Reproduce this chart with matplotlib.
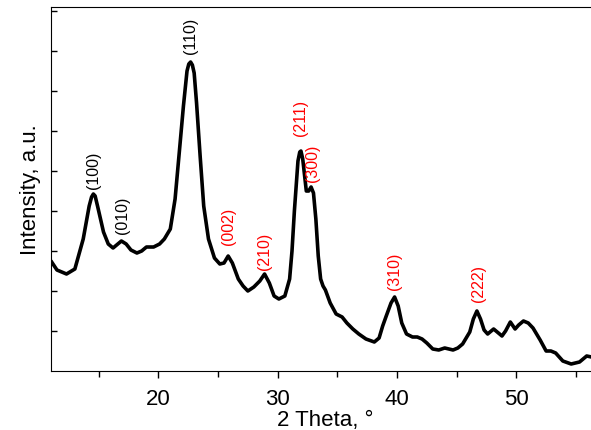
import matplotlib
matplotlib.use("Agg")
import matplotlib.pyplot as plt

plt.rcParams['font.family'] = ['Liberation Sans', 'DejaVu Sans']

# XRD pattern
two_theta = [11.0, 11.5, 12.3, 13.0, 13.7, 14.2, 14.4, 14.55, 14.7, 14.9,
             15.4, 15.8, 16.2, 16.6, 16.9, 17.3, 17.7, 18.2, 18.6, 19.0,
             19.6, 20.1, 20.5, 21.0, 21.4, 21.8, 22.1, 22.4, 22.55, 22.7,
             22.85, 23.0, 23.2, 23.5, 23.8, 24.2, 24.7, 25.15, 25.5, 25.85,
             26.2, 26.7, 27.1, 27.5, 28.0, 28.5, 28.9, 29.3, 29.7, 30.1,
             30.6, 31.0, 31.2, 31.4, 31.7, 31.85, 31.95, 32.1, 32.4, 32.6,
             32.8, 33.0, 33.2, 33.4, 33.6, 33.8, 34.0, 34.4, 34.9, 35.4,
             35.8, 36.3, 36.8, 37.4, 38.1, 38.5, 38.8, 39.1, 39.5, 39.8,
             40.1, 40.4, 40.8, 41.3, 41.7, 42.1, 42.5, 43.0, 43.5, 44.0,
             44.7, 45.1, 45.5, 46.1, 46.4, 46.7, 47.0, 47.3, 47.6, 48.1,
             48.5, 48.8, 49.1, 49.5, 49.9, 50.2, 50.6, 51.0, 51.4, 52.0,
             52.5, 52.9, 53.3, 53.9, 54.6, 55.3, 55.9, 56.3]
intensity = [110, 101, 97, 102, 132, 165, 174, 177, 175, 165,
             139, 127, 123, 127, 130, 127, 121, 118, 120, 124,
             124, 127, 132, 142, 172, 225, 265, 300, 307, 309,
             306, 298, 268, 215, 165, 132, 113, 107, 108, 115,
             108, 92, 85, 80, 84, 90, 97, 88, 75, 72,
             75, 92, 120, 160, 210, 219, 220, 212, 180, 180,
             184, 178, 152, 115, 92, 85, 81, 68, 57, 54,
             48, 42, 37, 32, 29, 33, 45, 55, 68, 74,
             65, 48, 37, 34, 34, 32, 28, 22, 21, 23,
             21, 23, 27, 39, 52, 60, 52, 41, 37, 42,
             38, 35, 40, 49, 42, 46, 50, 48, 43, 31,
             20, 20, 18, 10, 7, 9, 15, 14]

peak_labels = ['(100)', '(010)', '(110)', '(002)', '(210)',
               '(211)', '(300)', '(310)', '(222)']
peak_colors = ['black', 'black', 'black', 'red', 'red',
               'red', 'red', 'red', 'red']
label_x = [14.6, 17.0, 22.7, 25.9, 28.9, 31.95, 32.95, 39.8, 46.8]
label_y = [202, 157, 336, 146, 121, 254, 209, 101, 89]

fig = plt.figure(figsize=(5.91, 4.31), dpi=100)
ax = fig.add_axes([0.0863, 0.1369, 0.9286, 0.8445])

ax.plot(two_theta, intensity, color='black', linewidth=2.6,
        solid_joinstyle='round', solid_capstyle='round')

for lab, c, x, y in zip(peak_labels, peak_colors, label_x, label_y):
    ax.text(x, y, lab, color=c, rotation=90, fontsize=11.5,
            ha='center', va='center')

ax.set_xlim(11, 57)
ax.set_ylim(0, 364)
ax.set_xticks([20, 30, 40, 50])
ax.set_xticks([15, 25, 35, 45, 55], minor=True)
ax.set_yticks(range(40, 364, 40))
ax.set_yticklabels([])
ax.tick_params(axis='x', direction='out', length=5, width=1,
               labelsize=16, pad=7)
ax.tick_params(axis='x', which='minor', direction='out', length=4, width=1)
ax.tick_params(axis='y', direction='in', length=4, width=1)

ax.set_xlabel('2 Theta, °', fontsize=16, labelpad=0)
ax.set_ylabel('Intensity, a.u.', fontsize=16, labelpad=4)

fig.savefig('out.png', dpi=100)
